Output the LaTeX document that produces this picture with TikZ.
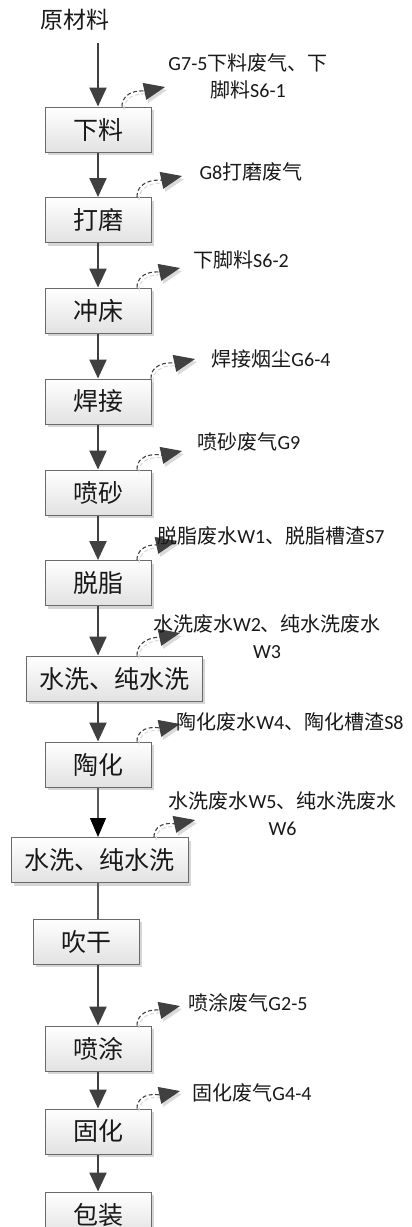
\documentclass[tikz,border=0pt]{standalone}
\usepackage{fontspec}
\setmainfont{Carlito}
\newfontfamily\cjk{Noto Sans CJK SC}
\usetikzlibrary{arrows.meta,shadows}
\definecolor{boxborder}{HTML}{6A6A6A}
\definecolor{boxbot}{HTML}{E2E2E2}
\definecolor{shadowc}{HTML}{D6D6D6}
\definecolor{arrowc}{HTML}{404040}
\definecolor{thinc}{HTML}{5A5A5A}
\definecolor{tipshadow}{HTML}{DADADA}
\newcommand\zh[1]{{\cjk #1}}
\tikzset{
  proc/.style={draw=boxborder, line width=1pt, top color=white, bottom color=boxbot,
    minimum width=106pt, minimum height=45pt, inner sep=0pt,
    font=\cjk\fontsize{25}{30}\selectfont, text=black!90,
    drop shadow={shadow xshift=3pt, shadow yshift=-3pt, fill=shadowc, opacity=1}},
  wideproc/.style={proc, minimum width=177pt},
  mainarrow/.style={draw=arrowc, line width=2.3pt, -{Triangle[length=19pt,width=17pt]}},
  thinarrow/.style={draw=thinc, line width=1.3pt, -{Triangle[length=19pt,width=16pt,color=black]}},
  thinline/.style={draw=thinc, line width=1.3pt},
  sidearrow/.style={draw=arrowc, line width=1.1pt, dash pattern=on 4pt off 2.5pt,
    -{Triangle[length=21pt,width=17pt]}},
  sideshadow/.style={draw=tipshadow, line width=1.1pt, dash pattern=on 4pt off 2.5pt,
    -{Triangle[length=21pt,width=17pt]}, transform canvas={shift={(2pt,-3pt)}}},
  lbl/.style={font=\fontsize{20}{27}\selectfont, align=center, inner sep=0pt, text=black!90},
}
\begin{document}
\begin{tikzpicture}[x=1pt,y=1pt]
\useasboundingbox (0,0) rectangle (412,-1227);
\fill[white] (0,0) rectangle (412,-1227);

% raw material
\node[font=\cjk\fontsize{23}{28}\selectfont, minimum height=46pt, inner sep=0pt, text=black!90] (raw) at (75,-20) {原材料};

% process boxes
\node[proc] (xl) at (98,-129.5) {下料};
\node[proc] (dm) at (98,-220) {打磨};
\node[proc] (cc) at (98,-310.5) {冲床};
\node[proc] (hj) at (98,-401.5) {焊接};
\node[proc] (ps) at (98,-492.5) {喷砂};
\node[proc] (tz) at (98,-583) {脱脂};
\node[wideproc, minimum width=176pt] (sxa) at (114,-678.5) {水洗、纯水洗};
\node[proc] (th) at (98,-764.5) {陶化};
\node[wideproc] (sxb) at (99.5,-860) {水洗、纯水洗};
\node[proc] (cg) at (86,-941.5) {吹干};
\node[proc] (pt) at (98,-1048.5) {喷涂};
\node[proc] (gh) at (98,-1131.5) {固化};
\node[proc] (bz) at (98,-1214.5) {包装};

% main flow
\draw[mainarrow] (xl.north |- raw.south) -- (xl.north);
\draw[mainarrow] (xl.south) -- (dm.north);
\draw[mainarrow] (dm.south) -- (cc.north);
\draw[mainarrow] (cc.south) -- (hj.north);
\draw[mainarrow] (hj.south) -- (ps.north);
\draw[mainarrow] (ps.south) -- (tz.north);
\draw[mainarrow] (tz.south) -- (tz.south |- sxa.north);
\draw[mainarrow] (th.north |- sxa.south) -- (th.north);
\draw[thinarrow] (th.south) -- (th.south |- sxb.north);
\draw[thinline] (th.south |- sxb.south) -- (th.south |- cg.north);
\draw[mainarrow] (pt.north |- cg.south) -- (pt.north);
\draw[mainarrow] (pt.south) -- (gh.north);
\draw[mainarrow] (gh.south) -- (bz.north);

% tips of side arrows
\coordinate (t1) at (165,-87);
\coordinate (t2) at (182,-176);
\coordinate (t3) at (180,-268);
\coordinate (t4) at (195,-359);
\coordinate (t5) at (182,-451);
\coordinate (t6) at (177,-541);
\coordinate (t7) at (180,-633);
\coordinate (t8) at (180,-724);
\coordinate (t9) at (195,-820);
\coordinate (t10) at (180,-1006);
\coordinate (t11) at (180,-1091);

% side (emission) arrows: shadows first
\foreach \b/\dx/\t in {xl/24/t1, dm/39/t2, cc/39/t3, hj/53/t4, ps/39/t5, tz/39/t6,
                       sxa/23/t7, th/39/t8, sxb/54.5/t9, pt/39/t10, gh/39/t11}{
  \draw[sideshadow] ([xshift=\dx pt]\b.north) to[out=90,in=192] (\t);
}
\foreach \b/\dx/\t in {xl/24/t1, dm/39/t2, cc/39/t3, hj/53/t4, ps/39/t5, tz/39/t6,
                       sxa/23/t7, th/39/t8, sxb/54.5/t9, pt/39/t10, gh/39/t11}{
  \draw[sidearrow] ([xshift=\dx pt]\b.north) to[out=90,in=192] (\t);
}

% labels
\node[lbl] (l1) at (248,-76) {G7-5\zh{下料废气、下}\\\zh{脚料}S6-1};
\node[lbl] (l2) at (251,-172) {G8\zh{打磨废气}};
\node[lbl] (l3) at (241,-260) {\zh{下脚料}S6-2};
\node[lbl] (l4) at (271,-359) {\zh{焊接烟尘}G6-4};
\node[lbl] (l5) at (249,-442) {\zh{喷砂废气}G9};
\node[lbl] (l6) at (271,-536) {\zh{脱脂废水}W1\zh{、脱脂槽渣}S7};
\node[lbl] (l7) at (267,-637) {\zh{水洗废水}W2\zh{、纯水洗废水}\\W3};
\node[lbl] (l8) at (290,-722) {\zh{陶化废水}W4\zh{、陶化槽渣}S8};
\node[lbl] (l9) at (282.5,-813.5) {\zh{水洗废水}W5\zh{、纯水洗废水}\\W6};
\node[lbl] (l10) at (248,-1003) {\zh{喷涂废气}G2-5};
\node[lbl] (l11) at (252,-1093) {\zh{固化废气}G4-4};
\end{tikzpicture}
\end{document}
